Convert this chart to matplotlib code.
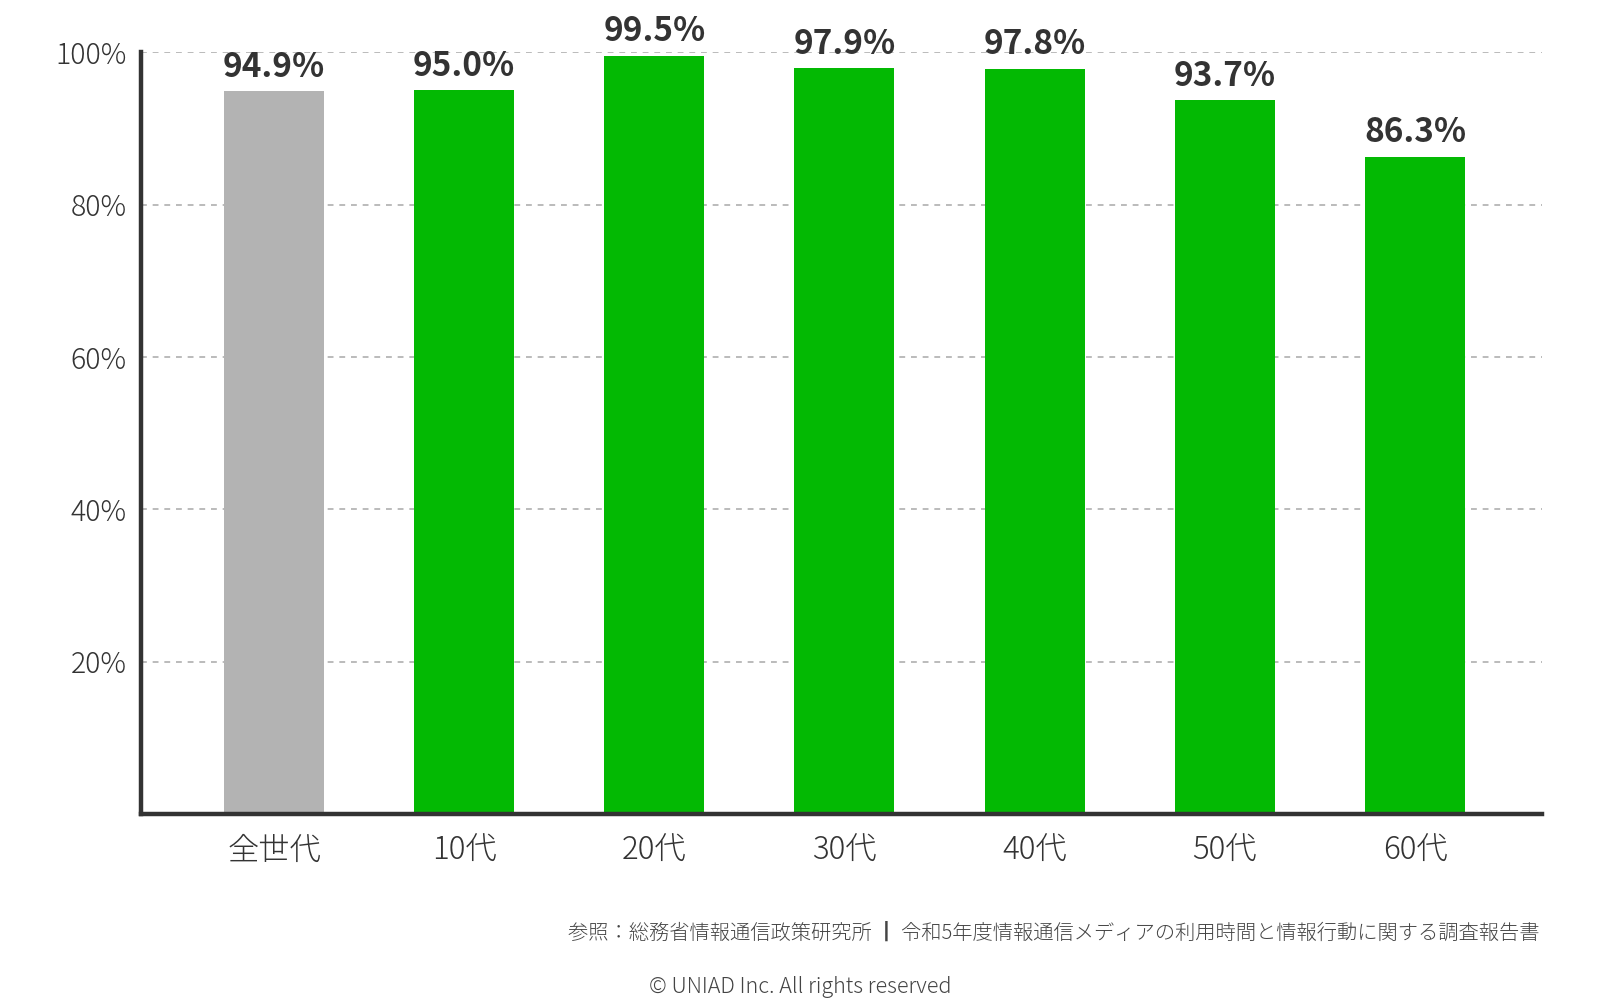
import matplotlib
matplotlib.use("Agg")
import matplotlib.pyplot as plt
from matplotlib.ticker import FixedLocator

plt.rcParams['font.family'] = ['Noto Sans CJK JP', 'DejaVu Sans']

categories = ['全世代', '10代', '20代', '30代', '40代', '50代', '60代']
values = [94.9, 95.0, 99.5, 97.9, 97.8, 93.7, 86.3]
labels = ['94.9%', '95.0%', '99.5%', '97.9%', '97.8%', '93.7%', '86.3%']
yticks = [20, 40, 60, 80, 100]
ytick_labels = ['20%', '40%', '60%', '80%', '100%']
source = '参照：総務省情報通信政策研究所 ┃ 令和5年度情報通信メディアの利用時間と情報行動に関する調査報告書'
copyright_text = '© UNIAD Inc. All rights reserved'

green = '#03b903'
gray = '#b3b3b3'
dark = '#333333'

fig = plt.figure(figsize=(16, 10), dpi=100)
ax = fig.add_axes([0.088, 0.186, 0.876, 0.7617])

colors = [gray] + [green] * (len(categories) - 1)
x = list(range(len(categories)))
bars = ax.bar(x, values, width=0.526, color=colors, zorder=2)

for b, lab in zip(bars, labels):
    ax.text(b.get_x() + b.get_width() / 2, b.get_height() + 1.0, lab,
            ha='center', va='bottom', fontsize=24, fontweight='bold',
            color=dark, clip_on=False)

ax.set_xlim(-0.7, 6.67)
ax.set_ylim(0, 100)
ax.yaxis.set_major_locator(FixedLocator(yticks))
ax.set_yticklabels(ytick_labels, fontsize=20.5, color=dark, fontweight='light')
ax.set_xticks(x)
ax.set_xticklabels(categories, fontsize=22.5, color=dark, fontweight='light')
ax.tick_params(axis='y', length=0, pad=10)
ax.tick_params(axis='x', length=0, pad=15)

ax.grid(axis='y', color='#bbbbbb', linestyle=(0, (3, 3)), linewidth=1.4, zorder=0)
ax.set_axisbelow(True)

for s in ['top', 'right']:
    ax.spines[s].set_visible(False)
for s in ['left', 'bottom']:
    ax.spines[s].set_color(dark)
    ax.spines[s].set_linewidth(3.2)

fig.text(0.962, 0.067, source, ha='right', va='center', fontsize=14.6,
         color='#444444', fontweight='light')
fig.text(0.5, 0.013, copyright_text, ha='center', va='center', fontsize=15.5,
         color='#444444', fontweight='light')

fig.savefig('out.png', dpi=100, facecolor='white')
